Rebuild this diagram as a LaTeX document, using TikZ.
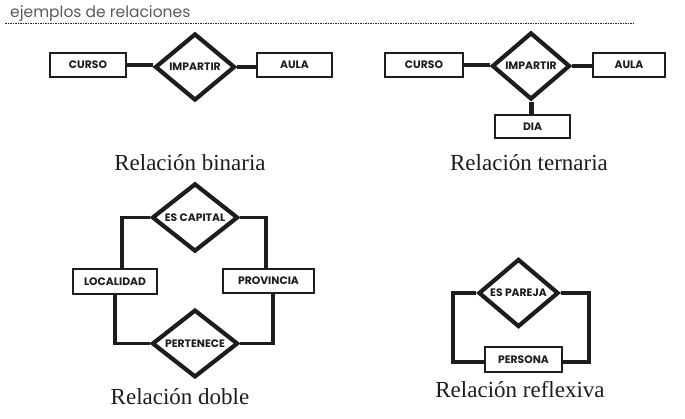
\documentclass[tikz,border=0pt]{standalone}
\usepackage{fontspec}
\setmainfont{Liberation Serif}
\newfontfamily\boxfont{Poppins}
\newfontfamily\titlefont{Poppins}
\usetikzlibrary{shapes.geometric}
\definecolor{ink}{RGB}{30,28,28}
\definecolor{titlegray}{RGB}{90,90,90}
\tikzset{
  x=1pt,y=-1pt,
  entity/.style={draw=ink,line width=2.4pt,fill=white,inner sep=0pt,
    font=\boxfont\bfseries\fontsize{10.8}{12}\selectfont,text=ink},
  rel/.style={draw=ink,line width=4.2pt,diamond,fill=white,inner sep=0pt,
    font=\boxfont\bfseries\fontsize{10.8}{12}\selectfont,text=ink},
  link/.style={draw=ink,line width=3.8pt},
  caption/.style={font=\fontsize{23}{27}\selectfont,text=ink,inner sep=0pt},
}
\begin{document}
\begin{tikzpicture}
\useasboundingbox (0,0) rectangle (685,419);
% title
\node[anchor=base west,inner sep=0pt,text=titlegray,font=\titlefont\fontsize{15.5}{18}\selectfont] (title) at (10,17.5) {ejemplos de relaciones};
\coordinate (dl) at (5,23.5);
\coordinate (dr) at (635,23.5);
\draw[line width=0.8pt,dash pattern=on 1.6pt off 0.9pt,black!85] (dl) -- (dr);

% binary
\node[entity,minimum width=76pt,minimum height=24pt] (c1) at (88,65) {CURSO};
\node[rel,minimum width=80pt,minimum height=67pt] (r1) at (195,67) {IMPARTIR};
\node[entity,minimum width=75pt,minimum height=24pt] (a1) at (294.5,65) {AULA};
\draw[link] (c1.east) -- (c1.east -| r1.west);
\draw[link] (r1.east) -- (r1.east -| a1.west);
\node[caption] (cap1) at (190,163) {Relación binaria};

% ternary
\node[entity,minimum width=78pt,minimum height=24pt] (c2) at (424,65) {CURSO};
\node[rel,minimum width=78pt,minimum height=67pt] (r2) at (531,66) {IMPARTIR};
\node[entity,minimum width=72pt,minimum height=24pt] (a2) at (629,65) {AULA};
\node[entity,minimum width=75pt,minimum height=23pt] (d2) at (532.5,126.5) {DIA};
\draw[link] (c2.east) -- (c2.east -| r2.west);
\draw[link] (r2.east) -- (r2.east -| a2.west);
\draw[link,line width=5pt] (r2.south) -- (d2.north -| r2.south);
\node[caption] (cap2) at (529,163) {Relación ternaria};

% double
\node[rel,minimum width=86pt,minimum height=67pt] (ec) at (195,217.5) {ES CAPITAL};
\node[entity,minimum width=84pt,minimum height=25pt] (loc) at (115,281.5) {LOCALIDAD};
\node[entity,minimum width=91pt,minimum height=24pt] (prov) at (268.5,281) {PROVINCIA};
\node[rel,minimum width=86pt,minimum height=67pt] (pe) at (195,343.5) {PERTENECE};
\draw[link] (ec.west) -| ([xshift=7pt]loc.north);
\draw[link] (ec.east) -| ([xshift=-2.5pt]prov.north);
\draw[link] (loc.south) |- (pe.west);
\draw[link] ([xshift=4.5pt]prov.south) |- (pe.east);
\node[caption] (cap3) at (180,397) {Relación doble};

% reflexive
\node[rel,minimum width=80pt,minimum height=68pt] (ep) at (518.5,293) {ES PAREJA};
\node[entity,minimum width=77pt,minimum height=25pt] (per) at (523.5,359.5) {PERSONA};
\coordinate (rl) at (453,293);
\coordinate (rr) at (589,293);
\draw[link] (ep.west) -- (rl) |- ([yshift=-2.5pt]per.west);
\draw[link] (ep.east) -- (rr) |- ([yshift=-2.5pt]per.east);
\node[caption] (cap4) at (520,390) {Relación reflexiva};
\end{tikzpicture}
\end{document}
